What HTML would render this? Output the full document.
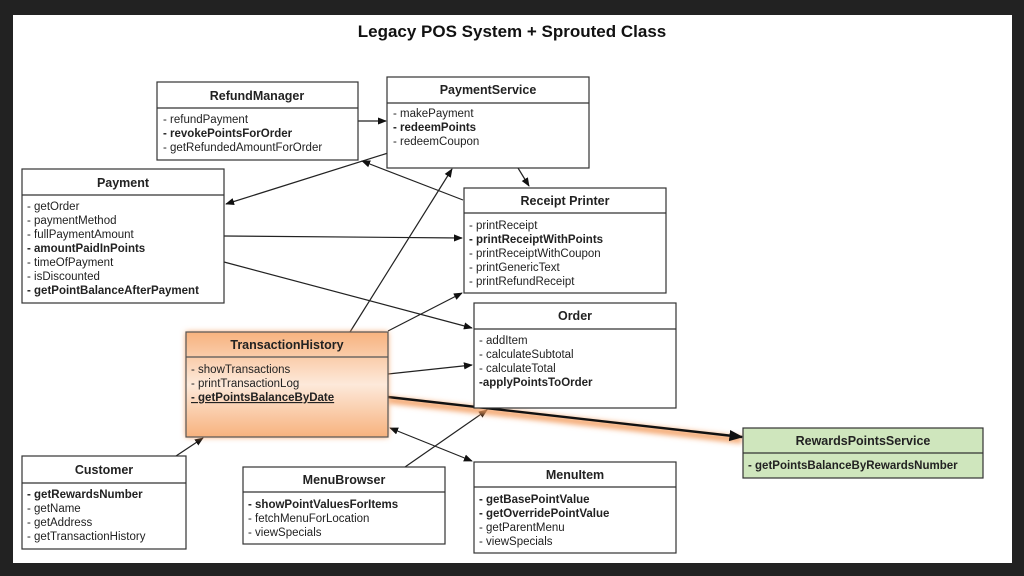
<!DOCTYPE html>
<html><head><meta charset="utf-8"><style>
html,body{margin:0;padding:0;background:#222;}
svg{display:block;font-family:"Liberation Sans",Arial,sans-serif;}
text{font-size:11.5px;fill:#222;}
.h{font-weight:bold;font-size:12.5px;}
.b{font-weight:bold;}
</style></head><body>
<svg width="1024" height="576" viewBox="0 0 1024 576" xmlns="http://www.w3.org/2000/svg">
<defs>
<marker id="a" viewBox="0 0 10 10" refX="9" refY="5" markerWidth="9" markerHeight="9" markerUnits="userSpaceOnUse" orient="auto-start-reverse"><path d="M0,1 L10,5 L0,9 z" fill="#111"/></marker>
<marker id="a2" viewBox="0 0 10 10" refX="9" refY="5" markerWidth="14" markerHeight="14" markerUnits="userSpaceOnUse" orient="auto"><path d="M0,1 L10,5 L0,9 z" fill="#111"/></marker>
<filter id="g" x="-20%" y="-20%" width="140%" height="140%"><feGaussianBlur stdDeviation="3"/></filter>
<linearGradient id="og" x1="0" y1="0" x2="0" y2="1"><stop offset="0" stop-color="#f7b27e"/><stop offset="0.5" stop-color="#fde9da"/><stop offset="1" stop-color="#f7b27e"/></linearGradient>
</defs>
<rect x="13" y="15" width="999" height="548" fill="#fff"/>
<text x="512" y="37" text-anchor="middle" style="font-size:17px;font-weight:bold;fill:#111">Legacy POS System + Sprouted Class</text>

<g stroke="#222" stroke-width="1.2" fill="none">
<line x1="358" y1="121" x2="386" y2="121" marker-end="url(#a)"/>
<line x1="388" y1="153" x2="226" y2="204" marker-end="url(#a)"/>
<line x1="463" y1="200" x2="362" y2="161" marker-end="url(#a)"/>
<line x1="518" y1="168" x2="529" y2="186" marker-end="url(#a)"/>
<line x1="224" y1="236" x2="462" y2="238" marker-end="url(#a)"/>
<line x1="224" y1="262" x2="472" y2="328" marker-end="url(#a)"/>
<line x1="350" y1="332" x2="452" y2="169" marker-end="url(#a)"/>
<line x1="388" y1="331" x2="462" y2="293" marker-end="url(#a)"/>
<line x1="388" y1="374" x2="472" y2="365" marker-end="url(#a)"/>
<line x1="390" y1="428" x2="472" y2="461" marker-start="url(#a)" marker-end="url(#a)"/>
<line x1="405" y1="467" x2="487" y2="410" marker-end="url(#a)"/>
<line x1="176" y1="456" x2="203" y2="438" marker-end="url(#a)"/>
</g>
<line x1="388" y1="400" x2="742" y2="440" stroke="#f39a5a" stroke-width="6" filter="url(#g)"/>
<line x1="388" y1="397" x2="742" y2="437" stroke="#111" stroke-width="2.4" marker-end="url(#a2)"/>

<g stroke="#333" stroke-width="1.2" fill="#fff">
<rect x="157" y="82" width="201" height="78"/><line x1="157" y1="108" x2="358" y2="108"/>
<rect x="387" y="77" width="202" height="91"/><line x1="387" y1="103" x2="589" y2="103"/>
<rect x="22" y="169" width="202" height="134"/><line x1="22" y1="195" x2="224" y2="195"/>
<rect x="464" y="188" width="202" height="105"/><line x1="464" y1="213" x2="666" y2="213"/>
<rect x="474" y="303" width="202" height="105"/><line x1="474" y1="329" x2="676" y2="329"/>
<rect x="474" y="462" width="202" height="91"/><line x1="474" y1="487" x2="676" y2="487"/>
<rect x="243" y="467" width="202" height="77"/><line x1="243" y1="492" x2="445" y2="492"/>
<rect x="22" y="456" width="164" height="93"/><line x1="22" y1="483" x2="186" y2="483"/>
</g>
<rect x="186" y="332" width="202" height="105" fill="#f39a5a" filter="url(#g)"/>
<rect x="186" y="332" width="202" height="105" fill="url(#og)" stroke="#555" stroke-width="1.2"/>
<line x1="186" y1="357" x2="388" y2="357" stroke="#555" stroke-width="1.2"/>
<rect x="743" y="428" width="240" height="50" fill="#cfe6bd" stroke="#333" stroke-width="1.2"/>
<line x1="743" y1="453" x2="983" y2="453" stroke="#333" stroke-width="1.2"/>

<text class="h" x="257" y="100" text-anchor="middle">RefundManager</text>
<text x="163" y="123">- refundPayment</text>
<text x="163" y="137" class="b">- revokePointsForOrder</text>
<text x="163" y="151">- getRefundedAmountForOrder</text>

<text class="h" x="488" y="94" text-anchor="middle">PaymentService</text>
<text x="393" y="117">- makePayment</text>
<text x="393" y="131" class="b">- redeemPoints</text>
<text x="393" y="145">- redeemCoupon</text>

<text class="h" x="123" y="187" text-anchor="middle">Payment</text>
<text x="27" y="210">- getOrder</text>
<text x="27" y="224">- paymentMethod</text>
<text x="27" y="238">- fullPaymentAmount</text>
<text x="27" y="252" class="b">- amountPaidInPoints</text>
<text x="27" y="266">- timeOfPayment</text>
<text x="27" y="280">- isDiscounted</text>
<text x="27" y="294" class="b">- getPointBalanceAfterPayment</text>

<text class="h" x="565" y="205" text-anchor="middle">Receipt Printer</text>
<text x="469" y="229">- printReceipt</text>
<text x="469" y="243" class="b">- printReceiptWithPoints</text>
<text x="469" y="257">- printReceiptWithCoupon</text>
<text x="469" y="271">- printGenericText</text>
<text x="469" y="285">- printRefundReceipt</text>

<text class="h" x="575" y="320" text-anchor="middle">Order</text>
<text x="479" y="344">- addItem</text>
<text x="479" y="358">- calculateSubtotal</text>
<text x="479" y="372">- calculateTotal</text>
<text x="479" y="386" class="b">-applyPointsToOrder</text>

<text class="h" x="287" y="349" text-anchor="middle">TransactionHistory</text>
<text x="191" y="373">- showTransactions</text>
<text x="191" y="387">- printTransactionLog</text>
<text x="191" y="401" class="b" text-decoration="underline">- getPointsBalanceByDate</text>

<text class="h" x="104" y="474" text-anchor="middle">Customer</text>
<text x="27" y="498" class="b">- getRewardsNumber</text>
<text x="27" y="512">- getName</text>
<text x="27" y="526">- getAddress</text>
<text x="27" y="540">- getTransactionHistory</text>

<text class="h" x="344" y="484" text-anchor="middle">MenuBrowser</text>
<text x="248" y="508" class="b">- showPointValuesForItems</text>
<text x="248" y="522">- fetchMenuForLocation</text>
<text x="248" y="536">- viewSpecials</text>

<text class="h" x="575" y="479" text-anchor="middle">MenuItem</text>
<text x="479" y="503" class="b">- getBasePointValue</text>
<text x="479" y="517" class="b">- getOverridePointValue</text>
<text x="479" y="531">- getParentMenu</text>
<text x="479" y="545">- viewSpecials</text>

<text class="h" x="863" y="445" text-anchor="middle">RewardsPointsService</text>
<text x="748" y="469" class="b">- getPointsBalanceByRewardsNumber</text>
</svg>
</body></html>
